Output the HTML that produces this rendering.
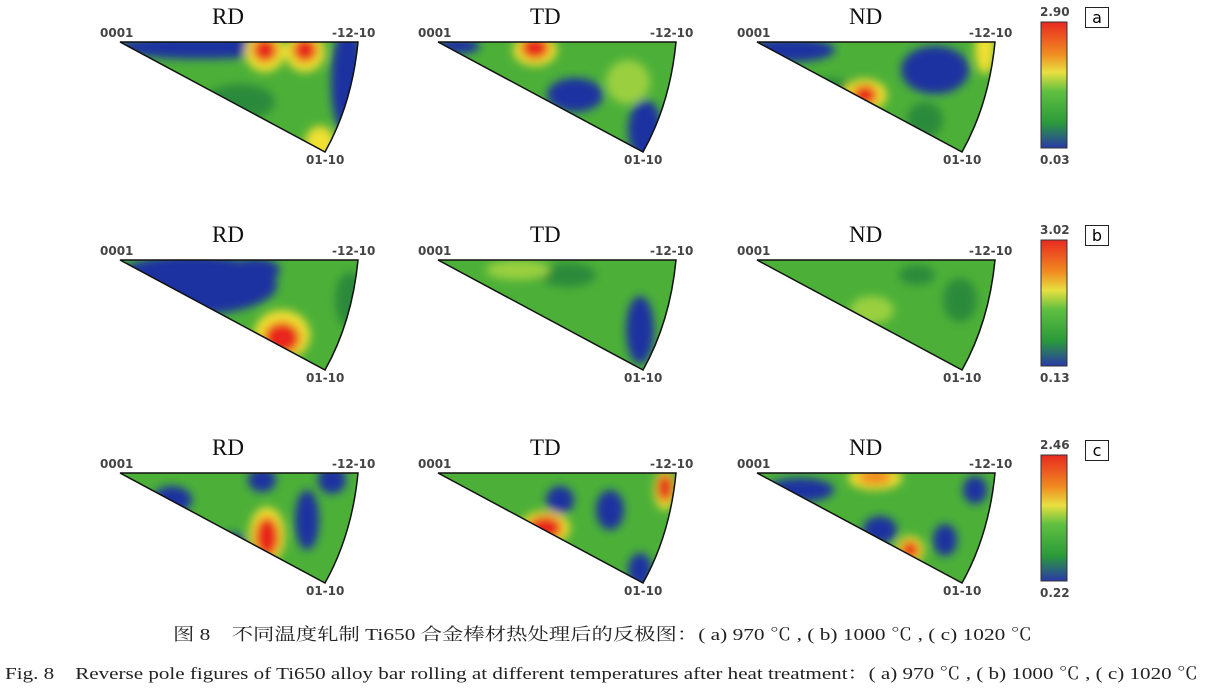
<!DOCTYPE html>
<html><head><meta charset="utf-8"><style>
body{margin:0;background:#fff;width:1207px;height:690px;overflow:hidden;position:relative;font-family:"Liberation Serif","Noto Serif CJK SC",serif}
.t{position:absolute;font-size:23px;font-family:"Liberation Serif",serif;color:#111}
.l{position:absolute;font-family:"DejaVu Sans",sans-serif;font-size:12px;font-weight:bold;color:#444}
.box{position:absolute;border:1.5px solid #222;width:22px;height:19px;text-align:center;font-family:"DejaVu Sans",sans-serif;font-size:16px;line-height:19px}
</style></head><body>
<svg id="s" width="1207" height="690" style="position:absolute;left:0;top:0">
<defs>
<filter id="b" x="-50%" y="-50%" width="200%" height="200%"><feGaussianBlur stdDeviation="4.5"/></filter>
<linearGradient id="cb" x1="0" y1="0" x2="0" y2="1">
<stop offset="0" stop-color="#e82a20"/><stop offset="0.25" stop-color="#f08a20"/><stop offset="0.4" stop-color="#e8e040"/><stop offset="0.55" stop-color="#60c040"/><stop offset="0.8" stop-color="#2a9a3a"/><stop offset="1" stop-color="#2a3aa8"/></linearGradient>
</defs>
<text x="173" y="640" textLength="859" lengthAdjust="spacingAndGlyphs" font-size="17" fill="#222" font-family="Liberation Serif, Noto Serif CJK SC, serif">图 8　不同温度轧制 Ti650 合金棒材热处理后的反极图：( a) 970 ℃ , ( b) 1000 ℃ , ( c) 1020 ℃</text>
<text x="5" y="679" textLength="1193" lengthAdjust="spacingAndGlyphs" font-size="17" fill="#222" font-family="Liberation Serif, Noto Serif CJK SC, serif">Fig. 8　Reverse pole figures of Ti650 alloy bar rolling at different temperatures after heat treatment：( a) 970 ℃ , ( b) 1000 ℃ , ( c) 1020 ℃</text>
</svg>
<div id="lab"></div>
<script>
var s=document.getElementById('s'),L=document.getElementById('lab');
var B='#1e30a0',R='#e8281a',Y='#f0e030',O='#f08a20',D='#2a8a3a',G='#9ad040';
var cols=[120,438,757],rows=[42,260,473],names=['RD','TD','ND'];
var blobs=[
[[[80,5,85,12,B],[228,40,17,55,B],[200,102,15,18,Y],[120,60,35,18,D],[145,10,20,20,Y],[185,10,20,20,Y],[145,8,12,12,R],[185,8,12,12,R]],
 [[20,4,22,8,B],[137,53,28,17,B],[207,88,17,30,B],[190,40,22,22,G],[97,8,22,16,Y],[97,6,14,11,R]],
 [[33,8,45,12,B],[73,48,24,12,D],[178,28,34,24,B],[168,78,18,18,D],[228,8,10,24,Y],[108,53,22,16,Y],[108,53,12,10,R]]],
[[[72,25,85,30,B],[135,10,25,12,B],[230,40,15,28,D],[162,75,28,25,Y],[162,78,18,16,R]],
 [[202,70,14,34,B],[130,15,28,12,D],[80,10,32,10,G]],
 [[203,40,17,22,D],[115,50,22,14,G],[160,15,18,10,D]]],
[[[52,27,20,14,B],[142,7,14,12,B],[112,72,14,12,B],[187,47,12,30,B],[212,7,14,14,B],[147,62,18,28,Y],[147,64,12,20,R]],
 [[122,27,14,14,B],[172,37,14,20,B],[202,97,12,17,B],[107,55,25,17,Y],[107,55,17,12,R],[227,17,11,20,Y],[227,15,8,14,R]],
 [[43,17,34,12,B],[123,57,17,14,B],[188,67,12,16,B],[218,17,12,14,B],[118,5,27,12,Y],[118,4,17,8,O],[153,77,14,14,Y],[153,77,9,9,R]]]];
var h='',id=0;
for(var r=0;r<3;r++)for(var c=0;c<3;c++){
 var x=cols[c],y=rows[r];id++;
 var p='M'+x+','+y+' L'+(x+238)+','+y+' Q'+(x+232)+','+(y+62)+' '+(x+205)+','+(y+110)+' Z';
 h+='<clipPath id="c'+id+'"><path d="'+p+'"/></clipPath><g clip-path="url(#c'+id+')"><rect x="'+x+'" y="'+y+'" width="240" height="115" fill="#4cb038"/><g filter="url(#b)">';
 blobs[r][c].forEach(function(e){h+='<ellipse cx="'+(x+e[0])+'" cy="'+(y+e[1])+'" rx="'+e[2]+'" ry="'+e[3]+'" fill="'+e[4]+'"/>';});
 h+='</g></g><path d="'+p+'" fill="none" stroke="#111" stroke-width="1.5"/>';
 L.innerHTML+='<div class="t" style="left:'+(x+92)+'px;top:'+(y-38)+'px">'+names[c]+'</div>'+
 '<div class="l" style="left:'+(x-20)+'px;top:'+(y-16)+'px">0001</div>'+
 '<div class="l" style="left:'+(x+212)+'px;top:'+(y-16)+'px">-12-10</div>'+
 '<div class="l" style="left:'+(x+186)+'px;top:'+(y+111)+'px">01-10</div>';
}
var cb=[[22,'2.90','0.03','a'],[240,'3.02','0.13','b'],[455,'2.46','0.22','c']];
cb.forEach(function(v){h+='<rect x="1041" y="'+v[0]+'" width="26" height="126" fill="url(#cb)" stroke="#333" stroke-width="1"/>';
 L.innerHTML+='<div class="l" style="left:1040px;top:'+(v[0]-17)+'px">'+v[1]+'</div><div class="l" style="left:1040px;top:'+(v[0]+131)+'px">'+v[2]+'</div><div class="box" style="left:1085px;top:'+(v[0]-15)+'px">'+v[3]+'</div>';});
s.innerHTML+=h;
</script>
</body></html>
